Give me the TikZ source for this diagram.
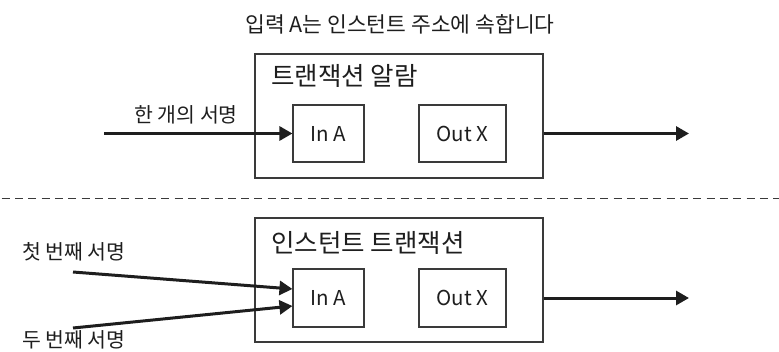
\documentclass[tikz,border=0pt]{standalone}
\usepackage{fontspec}
\setmainfont{Noto Sans CJK KR}
\usetikzlibrary{arrows.meta,calc}
\definecolor{ink}{HTML}{1E1E1E}
\definecolor{frame}{HTML}{3A3A3A}
\tikzset{
  outerbox/.style={draw=frame, line width=1.1pt, minimum width=288pt, minimum height=124pt, inner sep=0pt},
  portbox/.style={draw=frame, line width=1.1pt, inner sep=0pt, font=\fontsize{20.5}{24}\selectfont, text=ink},
  boxtitle/.style={anchor=west, inner sep=0pt, font=\fontsize{25.5}{30}\selectfont, text=ink},
  sidelabel/.style={inner sep=0pt, font=\fontsize{20.5}{24}\selectfont, text=ink},
  heading/.style={inner sep=0pt, font=\fontsize{21.5}{25}\selectfont, text=ink},
  flow/.style={draw=ink, line width=3pt, -{Triangle[length=13pt,width=14pt]}},
  divider/.style={draw=frame, line width=1pt, dash pattern=on 8pt off 5.3pt, dash phase=11.6pt}
}
\begin{document}
\begin{tikzpicture}[x=1pt,y=-1pt]
  \useasboundingbox (0,0) rectangle (779,351);
  \clip (0,0) rectangle (779,351);

  % heading
  \node[heading] (head) at (400,24) {입력 A는 인스턴트 주소에 속합니다};

  % upper block: transaction alarm
  \node[outerbox] (alarm) at (399,116) {};
  \node[boxtitle] (alarmT) at (271,76) {트랜잭션 알람};
  \node[portbox, minimum width=71pt, minimum height=57pt] (inA1) at (328.5,133.5) {In A};
  \node[portbox, minimum width=87pt, minimum height=57pt] (outX1) at (462.5,133.5) {Out X};
  \coordinate (src1) at (104,133.5);
  \coordinate (dst1) at (689,133.5);
  \node[sidelabel, anchor=east] (sig1) at (238,115) {한 개의 서명};
  \draw[flow] (src1) -- (inA1.west);
  \draw[flow] (alarm.east |- outX1.east) -- (dst1);

  % separator
  \coordinate (divL) at (0,198.5);
  \coordinate (divR) at (779,198.5);
  \draw[divider] (divL) -- (divR);

  % lower block: instant transaction
  \node[outerbox] (instant) at (399,280) {};
  \node[boxtitle] (instantT) at (271,243) {인스턴트 트랜잭션};
  \node[portbox, minimum width=71pt, minimum height=58pt] (inA2) at (328.5,298) {In A};
  \node[portbox, minimum width=87pt, minimum height=58pt] (outX2) at (462.5,298) {Out X};
  \coordinate (src2a) at (73,272);
  \coordinate (src2b) at (73,328);
  \coordinate (dst2) at (689,298);
  \node[sidelabel, anchor=west] (sig2a) at (22,252) {첫 번째 서명};
  \node[sidelabel, anchor=west] (sig2b) at (22,340) {두 번째 서명};
  \draw[flow] (src2a) -- ($(inA2.west)+(0,-9)$);
  \draw[flow] (src2b) -- ($(inA2.west)+(0,8)$);
  \draw[flow] (instant.east |- outX2.east) -- (dst2);
\end{tikzpicture}
\end{document}
